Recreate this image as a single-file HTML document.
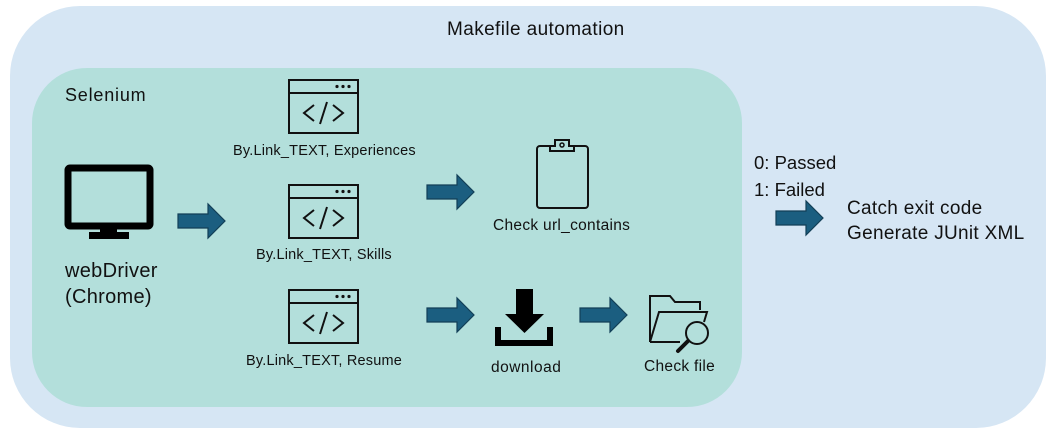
<!DOCTYPE html>
<html><head><style>
body{margin:0;width:1056px;height:435px;background:#fff;position:relative;overflow:hidden;font-family:"Liberation Sans",sans-serif;color:#111}
.t{position:absolute;white-space:nowrap;line-height:1}
</style></head><body>
<svg width="1056" height="435" style="position:absolute;left:0;top:0">
<defs>
<g id="arr"><path d="M0,-7 H30 V-17 L47,0 L30,17 V7 H0 Z" fill="#1b5e80" stroke="#123f57" stroke-width="1.2"/></g>
<g id="code"><rect x="0" y="0" width="69" height="53" fill="none" stroke="#111" stroke-width="2"/><line x1="0" y1="13" x2="69" y2="13" stroke="#111" stroke-width="2"/>
<circle cx="48" cy="6.5" r="1.6" fill="#111"/><circle cx="54" cy="6.5" r="1.6" fill="#111"/><circle cx="60" cy="6.5" r="1.6" fill="#111"/>
<path d="M25,25 L15,33 L25,41 M44,25 L54,33 L44,41 M38,22 L31,44" fill="none" stroke="#111" stroke-width="2"/></g>
</defs>
<rect x="10" y="6" width="1036" height="422" rx="70" fill="#d6e6f4"/>
<rect x="32" y="68" width="710" height="339" rx="55" fill="#b3dfdb"/>
<rect x="68" y="168" width="82" height="58" fill="none" stroke="#000" stroke-width="7" rx="2"/>
<rect x="100" y="226" width="17" height="8" fill="#000"/>
<rect x="89" y="232" width="40" height="7" fill="#000"/>
<use href="#code" x="289" y="80"/>
<use href="#code" x="289" y="185"/>
<use href="#code" x="289" y="290"/>
<use href="#arr" x="178" y="221"/>
<use href="#arr" x="427" y="192"/>
<use href="#arr" x="427" y="315"/>
<use href="#arr" x="580" y="315"/>
<use href="#arr" x="776" y="218"/>
<rect x="537" y="146" width="51" height="62" rx="3" fill="none" stroke="#111" stroke-width="2"/>
<path d="M550,151 V146 H555 V140 H569 V146 H574 V151 Z" fill="#b3dfdb" stroke="#111" stroke-width="2"/>
<circle cx="562" cy="145" r="2" fill="none" stroke="#111" stroke-width="1.5"/>
<rect x="516" y="289" width="17" height="25" fill="#000"/>
<path d="M505,314 L544,314 L524.5,333 Z" fill="#000"/>
<path d="M498,327 V343 H550 V327" fill="none" stroke="#000" stroke-width="6"/>
<path d="M650,342 V296 H670 L675,302 H700 V310" fill="none" stroke="#111" stroke-width="2"/>
<path d="M650,342 L659,312 H707 L704,322" fill="none" stroke="#111" stroke-width="2"/>
<path d="M650,342 H680" fill="none" stroke="#111" stroke-width="2"/>
<circle cx="697" cy="333" r="11" fill="none" stroke="#111" stroke-width="2"/>
<path d="M688,341 L678,351" stroke="#111" stroke-width="4" stroke-linecap="round"/>
</svg>
<div class="t" style="left:447px;top:20px;font-size:19px;letter-spacing:0.4px">Makefile automation</div>
<div class="t" style="left:65px;top:86px;font-size:18px;letter-spacing:0.8px">Selenium</div>
<div class="t" style="left:65px;top:261px;font-size:20px;letter-spacing:0.3px">webDriver</div>
<div class="t" style="left:65px;top:287px;font-size:20px;letter-spacing:0.3px">(Chrome)</div>
<div class="t" style="left:233px;top:144px;font-size:14.5px;letter-spacing:0.2px">By.Link_TEXT, Experiences</div>
<div class="t" style="left:256px;top:248px;font-size:14.5px;letter-spacing:0.2px">By.Link_TEXT, Skills</div>
<div class="t" style="left:246px;top:354px;font-size:14.5px;letter-spacing:0.2px">By.Link_TEXT, Resume</div>
<div class="t" style="left:493px;top:218px;font-size:15.5px;letter-spacing:0.3px">Check url_contains</div>
<div class="t" style="left:491px;top:360px;font-size:15.5px;letter-spacing:0.5px">download</div>
<div class="t" style="left:644px;top:359px;font-size:15.5px;letter-spacing:0.3px">Check file</div>
<div class="t" style="left:754px;top:154px;font-size:18.5px">0: Passed</div>
<div class="t" style="left:754px;top:181px;font-size:18.5px">1: Failed</div>
<div class="t" style="left:847px;top:199px;font-size:19px;letter-spacing:0.3px">Catch exit code</div>
<div class="t" style="left:847px;top:224px;font-size:19px;letter-spacing:0.3px">Generate JUnit XML</div>
</body></html>
